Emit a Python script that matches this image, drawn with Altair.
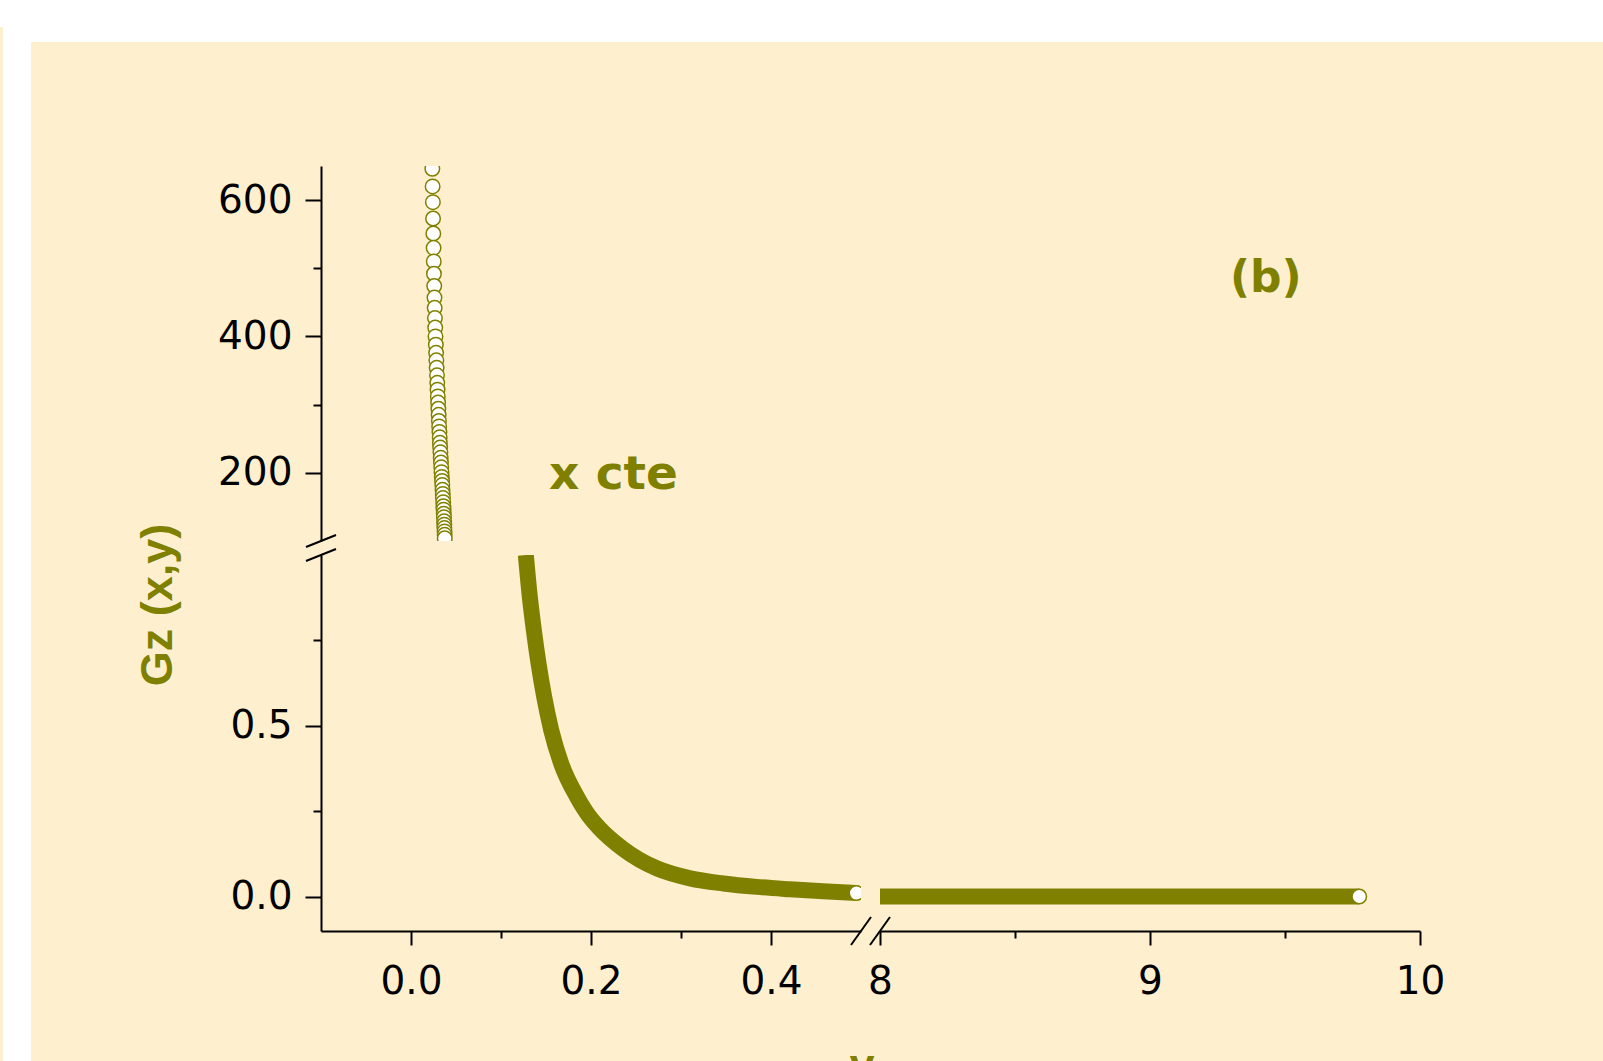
import altair as alt
import pandas as pd

OLIVE = "#808000"
CREAM = "#FEF0CE"
INK = "#000000"

# ---------------- data: Gz(x, y) at constant x ----------------
# steep branch at very small y (drawn against the 100-650 scale)
upper_y = [0.0237, 0.0240, 0.0243, 0.0245, 0.0248, 0.0251, 0.0253, 0.0255,
           0.0258, 0.0261, 0.0263, 0.0266, 0.0269, 0.0272, 0.0276, 0.0279,
           0.0282, 0.0285, 0.0289, 0.0292, 0.0295, 0.0298, 0.0301, 0.0304,
           0.0307, 0.0310, 0.0313, 0.0316, 0.0319, 0.0321, 0.0324, 0.0327,
           0.0330, 0.0333, 0.0336, 0.0339, 0.0342, 0.0345, 0.0348, 0.0350,
           0.0353, 0.0355, 0.0358, 0.0360, 0.0362, 0.0364, 0.0366, 0.0368,
           0.0370, 0.0371, 0.0373, 0.0374, 0.0375]
upper_gz = [646, 620, 597, 573, 551, 530, 510, 492,
            474, 457, 442, 427, 413, 400, 388, 376,
            365, 354, 343, 332, 322, 312, 303, 294,
            285, 276, 268, 260, 252, 244, 237, 230,
            222, 215, 208, 201, 194, 188, 182, 175,
            169, 163, 157, 151, 146, 140, 135, 129,
            124, 119, 114, 109, 104]

# decay branch for 0.1 < y < 0.5
lower_y = [0.1276, 0.1320, 0.1365, 0.1417, 0.1480, 0.1558, 0.1669, 0.1846,
           0.2003, 0.2082, 0.2363, 0.2733, 0.3102, 0.3471, 0.3841, 0.4211,
           0.4580, 0.4950]
lower_gz = [1.000, 0.878, 0.780, 0.683, 0.585, 0.488, 0.390, 0.292,
            0.228, 0.204, 0.139, 0.083, 0.054, 0.039, 0.029, 0.022,
            0.016, 0.011]

# tail for 8 < y < 10
tail_y = [8.0, 8.5, 9.0, 9.5, 9.775]
tail_gz = [0.001, 0.001, 0.001, 0.001, 0.001]

# axis ticks
top_major, top_minor = [200, 400, 600], [300, 500]
low_major, low_minor = [0.0, 0.5], [0.25, 0.75]
xl_major, xl_minor = [0.0, 0.2, 0.4], [0.1, 0.3]
xr_major, xr_minor = [8, 9, 10], [8.5, 9.5]

# ---------------- layout ----------------
PANEL_W = 540
TOP_H = 375
LOW_H = 376
VGAP = 14
HGAP = 19

df_up = pd.DataFrame({"y": upper_y, "gz": upper_gz})
df_low = pd.DataFrame({"y": lower_y, "gz": lower_gz})
df_tail = pd.DataFrame({"y": tail_y, "gz": tail_gz})
one = pd.DataFrame({"k": [0]})

LABEL_FONT = "DejaVu Sans"
LABEL_SIZE = 39


def axis(orient, major, minor, fmt, major_len, minor_len, pad, z=0):
    test = " || ".join(f"datum.value == {v}" for v in major)
    return alt.Axis(
        orient=orient,
        values=sorted(major + minor),
        tickCount=50,
        tickMinStep=0.01,
        format=fmt,
        labelExpr=f"({test}) ? datum.label : ''",
        tickSize={"condition": {"test": test, "value": major_len}, "value": minor_len},
        labelPadding=pad,
        labelFlush=False,
        labelOverlap=False,
        labelFont=LABEL_FONT,
        labelFontSize=LABEL_SIZE,
        labelColor=INK,
        domainColor=INK,
        domainWidth=2,
        tickColor=INK,
        tickWidth=2,
        grid=False,
        zindex=z,
    )


x_left = alt.Scale(domain=[-0.1, 0.5], nice=False, zero=False)
x_right = alt.Scale(domain=[8, 10], nice=False, zero=False)
y_top = alt.Scale(domain=[100, 650], nice=False, zero=False)
y_low = alt.Scale(domain=[-0.1, 1.0], nice=False, zero=False)

# ---- upper panel ----
page_bg = alt.Chart(one).mark_rect(color=CREAM).encode(
    x=alt.value(-290), x2=alt.value(1282), y=alt.value(-124), y2=alt.value(895)
)
edge_strip = alt.Chart(one).mark_rect(color=CREAM).encode(
    x=alt.value(-321), x2=alt.value(-318), y=alt.value(-139), y2=alt.value(895)
)
upper_pts = alt.Chart(df_up).mark_circle(
    size=210, fill="white", stroke=OLIVE, strokeWidth=1.5, opacity=1, clip=True
).encode(
    x=alt.X("y:Q", scale=x_left, axis=None),
    y=alt.Y("gz:Q", scale=y_top, title=None,
            axis=axis("left", top_major, top_minor, ".0f", 16, 8, 13, z=1)),
)
note_cte = alt.Chart(one).mark_text(
    text="x cte", font="DejaVu Sans", fontWeight="bold", fontSize=47,
    color=OLIVE, align="left", baseline="middle"
).encode(x=alt.value(228), y=alt.value(309))
note_b = alt.Chart(one).mark_text(
    text="(b)", font="DejaVu Sans", fontWeight="bold", fontSize=44,
    color=OLIVE, align="left", baseline="middle"
).encode(x=alt.value(909), y=alt.value(113))
y_title = alt.Chart(one).mark_text(
    text="Gz (x,y)", font="Liberation Sans", fontWeight="bold", fontSize=45,
    color=OLIVE, align="center", baseline="middle", angle=270
).encode(x=alt.value(-163), y=alt.value(439))
x_title = alt.Chart(one).mark_text(
    text="y", font="Liberation Sans", fontWeight="bold", fontSize=45,
    color=OLIVE, align="center", baseline="alphabetic"
).encode(x=alt.value(541), y=alt.value(914))
y_break_top = alt.Chart(one).mark_rule(color=INK, strokeWidth=2).encode(
    x=alt.value(-15), y=alt.value(TOP_H + 6), x2=alt.value(15), y2=alt.value(TOP_H - 6)
)

top = alt.layer(
    page_bg, edge_strip, upper_pts, note_cte, note_b, y_title, x_title, y_break_top
).properties(width=PANEL_W, height=TOP_H)

# ---- lower left panel ----
band_low = alt.Chart(df_low).mark_line(
    color=OLIVE, strokeWidth=16, strokeCap="butt", strokeJoin="round",
    interpolate="monotone", clip=True
).encode(
    x=alt.X("y:Q", scale=x_left, title=None,
            axis=axis("bottom", xl_major, xl_minor, ".1f", 14, 7, 17)),
    y=alt.Y("gz:Q", scale=y_low, title=None,
            axis=axis("left", low_major, low_minor, ".1f", 16, 8, 13)),
)
end_low = alt.Chart(df_low.iloc[[-1]]).mark_circle(
    size=210, fill="white", stroke=OLIVE, strokeWidth=1.5, opacity=1, clip=True
).encode(x="y:Q", y="gz:Q")
y_break_low = alt.Chart(one).mark_rule(color=INK, strokeWidth=2).encode(
    x=alt.value(-15), y=alt.value(6), x2=alt.value(15), y2=alt.value(-6)
)
x_break_left = alt.Chart(one).mark_rule(color=INK, strokeWidth=2).encode(
    x=alt.value(PANEL_W - 10), y=alt.value(LOW_H + 14),
    x2=alt.value(PANEL_W + 10), y2=alt.value(LOW_H - 14)
)
low_left = alt.layer(band_low, end_low, y_break_low, x_break_left).properties(
    width=PANEL_W, height=LOW_H
)

# ---- lower right panel ----
band_tail = alt.Chart(df_tail).mark_line(
    color=OLIVE, strokeWidth=16, strokeCap="butt", clip=True
).encode(
    x=alt.X("y:Q", scale=x_right, title=None,
            axis=axis("bottom", xr_major, xr_minor, ".0f", 14, 7, 17)),
    y=alt.Y("gz:Q", scale=y_low, axis=None),
)
end_tail = alt.Chart(df_tail.iloc[[-1]]).mark_circle(
    size=210, fill="white", stroke=OLIVE, strokeWidth=1.5, opacity=1, clip=True
).encode(x="y:Q", y="gz:Q")
x_break_right = alt.Chart(one).mark_rule(color=INK, strokeWidth=2).encode(
    x=alt.value(-10), y=alt.value(LOW_H + 14), x2=alt.value(10), y2=alt.value(LOW_H - 14)
)
low_right = alt.layer(band_tail, end_tail, x_break_right).properties(
    width=PANEL_W, height=LOW_H
)

lower = alt.hconcat(low_left, low_right, spacing=HGAP, bounds="flush")

chart = (
    alt.vconcat(top, lower, spacing=VGAP, bounds="flush")
    .properties(padding={"left": 0, "top": 27, "right": 0, "bottom": 0}, background="white")
    .configure_view(stroke=None)
)

chart.save("out.html", embed_options={"renderer": "svg", "actions": False})
